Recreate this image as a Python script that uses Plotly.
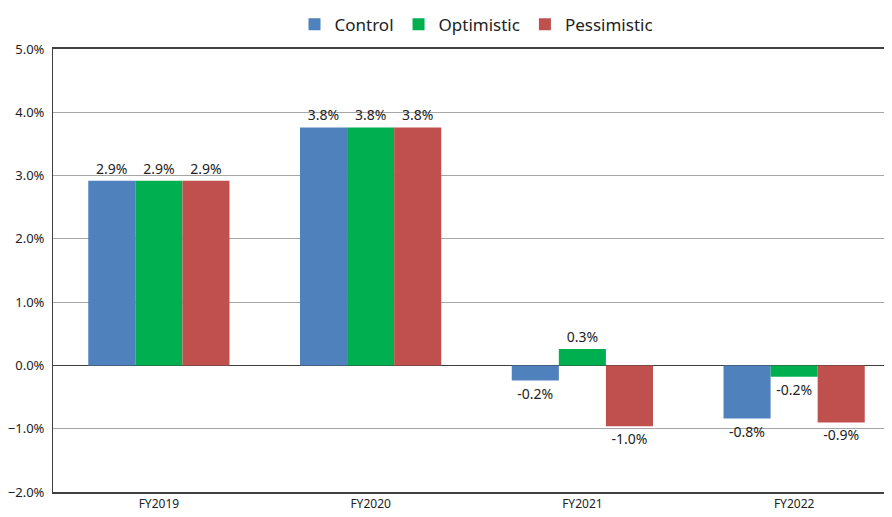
import plotly.graph_objects as go

years = ["FY2019", "FY2020", "FY2021", "FY2022"]
control = [2.92, 3.76, -0.24, -0.84]
optimistic = [2.92, 3.76, 0.26, -0.18]
pessimistic = [2.92, 3.76, -0.96, -0.90]

series = [
    ("Control", control, "#4f81bd"),
    ("Optimistic", optimistic, "#00b050"),
    ("Pessimistic", pessimistic, "#c0504d"),
]

FONT = "Noto Sans, Liberation Sans, sans-serif"

fig = go.Figure()
for name, vals, color in series:
    fig.add_trace(go.Bar(
        x=years, y=vals, name=name,
        marker=dict(color=color, line=dict(width=0)),
        text=[f"{v:.1f}%" for v in vals],
        textposition="outside",
        textfont=dict(size=14, color="#222222", family=FONT),
        cliponaxis=False,
    ))

# page body has an 8px margin, so offsets are compensated here
fig.update_layout(
    width=892, height=517,
    barmode="group", bargap=0.333, bargroupgap=0,
    plot_bgcolor="white", paper_bgcolor="white",
    font=dict(family=FONT, color="#222222"),
    margin=dict(l=45, r=0, t=41, b=33, autoexpand=False),
    showlegend=True,
    legend=dict(orientation="h", x=0.5, xanchor="center", y=1.055, yanchor="middle",
                font=dict(size=17), traceorder="normal"),
    xaxis=dict(tickfont=dict(size=12), showline=True, linecolor="#404040",
               linewidth=1.5, ticks="", showgrid=False, automargin=False,
               mirror=True),
    yaxis=dict(range=[-2, 5], dtick=1, tickformat=".1f", ticksuffix="%",
               tickfont=dict(size=13), showgrid=True, gridcolor="#a6a6a6",
               gridwidth=1, showline=True, linecolor="#404040", linewidth=1,
               zeroline=True, zerolinecolor="#404040", zerolinewidth=1.2,
               ticks="", automargin=False, ticklabelstandoff=5),
)

fig.write_html("out.html")
